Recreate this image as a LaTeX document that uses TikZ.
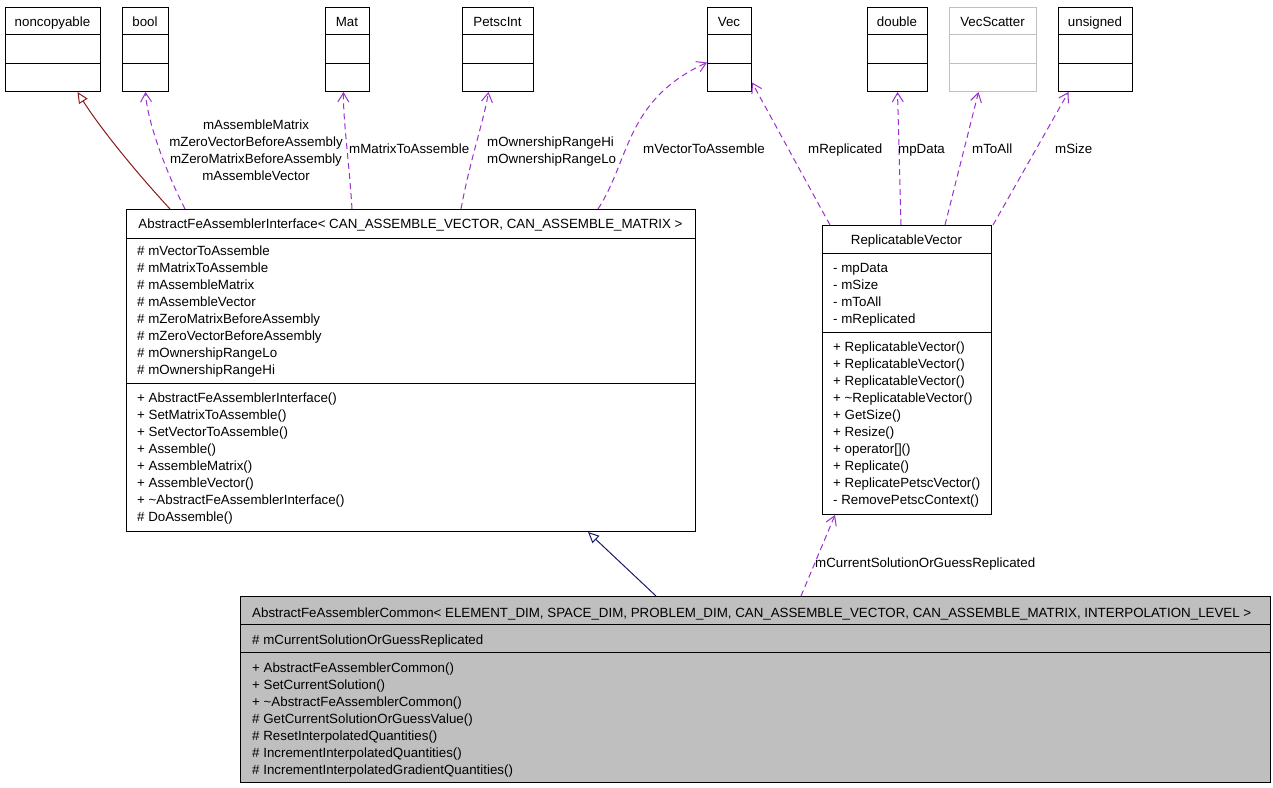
\documentclass[tikz,border=0pt]{standalone}
\usepackage{fontspec}
\setmainfont{Liberation Sans}
\usetikzlibrary{arrows.meta}
\definecolor{usecol}{HTML}{9A32CD}
\definecolor{inhred}{HTML}{8B1A1A}
\definecolor{inhblue}{HTML}{191970}
\definecolor{boxgray}{HTML}{BFBFBF}
\newcommand\clsfont{\fontsize{13.33}{17}\selectfont}
\tikzset{
  cls/.style={draw=black, line width=1pt, inner sep=0pt, anchor=north west},
  ttl/.style={anchor=base, inner sep=0pt, font=\clsfont},
  mem/.style={anchor=base west, inner sep=0pt, font=\clsfont},
  elab/.style={anchor=base west, inner sep=0pt, font=\clsfont},
  clab/.style={anchor=base, inner sep=0pt, font=\clsfont},
  usage/.style={usecol, line width=1pt, dash pattern=on 6pt off 4pt,
    -{Straight Barb[length=9pt,width=11pt,line width=1pt]}},
  inh/.style={line width=1pt, -{Triangle[open,length=11pt,width=10pt,line width=1pt]}},
}
\newcommand\topbox[5]{%
  \node[cls, draw=#5, minimum width={#3-#2}, minimum height=84] (#1) at (#2,7) {};
  \draw[#5, line width=1pt] (#1.west |- 0,34) -- (#1.east |- 0,34);
  \draw[#5, line width=1pt] (#1.west |- 0,63) -- (#1.east |- 0,63);
  \node[ttl] (#1-t) at ({(#2+#3)/2},26) {#4};
}
\begin{document}
\begin{tikzpicture}[x=1pt,y=-1pt]
\useasboundingbox[fill=white] (0,0) rectangle (1273,787);

% top boxes
\topbox{nc}{5}{100}{noncopyable}{black}
\topbox{bool}{122}{168}{bool}{black}
\topbox{mat}{325}{369}{Mat}{black}
\topbox{pint}{462}{533}{PetscInt}{black}
\topbox{vec}{707}{751}{Vec}{black}
\topbox{dbl}{867}{927}{double}{black}
\topbox{vsc}{949}{1036}{VecScatter}{boxgray}
\topbox{uns}{1058}{1132}{unsigned}{black}

% interface box
\node[cls, minimum width=569, minimum height=322] (ifc) at (126,209) {};
\draw[line width=1pt] (ifc.west |- 0,238) -- (ifc.east |- 0,238);
\draw[line width=1pt] (ifc.west |- 0,383) -- (ifc.east |- 0,383);
\node[ttl] (ifc-t) at (410.5,228) {AbstractFeAssemblerInterface< CAN\_ASSEMBLE\_VECTOR, CAN\_ASSEMBLE\_MATRIX >};
\foreach \t [count=\i from 0] in {{\# mVectorToAssemble},{\# mMatrixToAssemble},{\# mAssembleMatrix},{\# mAssembleVector},{\# mZeroMatrixBeforeAssembly},{\# mZeroVectorBeforeAssembly},{\# mOwnershipRangeLo},{\# mOwnershipRangeHi}}
  \node[mem] (ifc-a\i) at (137,{255+17*\i}) {\t};
\foreach \t [count=\i from 0] in {{+ AbstractFeAssemblerInterface()},{+ SetMatrixToAssemble()},{+ SetVectorToAssemble()},{+ Assemble()},{+ AssembleMatrix()},{+ AssembleVector()},{+ \textasciitilde AbstractFeAssemblerInterface()},{\# DoAssemble()}}
  \node[mem] (ifc-m\i) at (137,{402+17*\i}) {\t};

% ReplicatableVector box
\node[cls, minimum width=169, minimum height=289] (rv) at (822,225) {};
\draw[line width=1pt] (rv.west |- 0,253) -- (rv.east |- 0,253);
\draw[line width=1pt] (rv.west |- 0,332) -- (rv.east |- 0,332);
\node[ttl] (rv-t) at (906.5,244) {ReplicatableVector};
\foreach \t [count=\i from 0] in {{- mpData},{- mSize},{- mToAll},{- mReplicated}}
  \node[mem] (rv-a\i) at (833,{272+17*\i}) {\t};
\foreach \t [count=\i from 0] in {{+ ReplicatableVector()},{+ ReplicatableVector()},{+ ReplicatableVector()},{+ \textasciitilde ReplicatableVector()},{+ GetSize()},{+ Resize()},{+ operator[]()},{+ Replicate()},{+ ReplicatePetscVector()},{- RemovePetscContext()}}
  \node[mem] (rv-m\i) at (833,{351+17*\i}) {\t};

% Common box
\node[cls, fill=boxgray, minimum width=1030, minimum height=186] (com) at (240,596) {};
\draw[line width=1pt] (com.west |- 0,624) -- (com.east |- 0,624);
\draw[line width=1pt] (com.west |- 0,652) -- (com.east |- 0,652);
\node[mem] (com-t) at (252,617) {AbstractFeAssemblerCommon< ELEMENT\_DIM, SPACE\_DIM, PROBLEM\_DIM, CAN\_ASSEMBLE\_VECTOR, CAN\_ASSEMBLE\_MATRIX, INTERPOLATION\_LEVEL >};
\node[mem] (com-a0) at (252,644) {\# mCurrentSolutionOrGuessReplicated};
\foreach \t [count=\i from 0] in {{+ AbstractFeAssemblerCommon()},{+ SetCurrentSolution()},{+ \textasciitilde AbstractFeAssemblerCommon()},{\# GetCurrentSolutionOrGuessValue()},{\# ResetInterpolatedQuantities()},{\# IncrementInterpolatedQuantities()},{\# IncrementInterpolatedGradientQuantities()}}
  \node[mem] (com-m\i) at (252,{672+17*\i}) {\t};

% inheritance edges
\draw[inh, inhred] ([xshift=44pt]ifc.north west) .. controls (125,160) and (95,120) .. ([xshift=24.5pt]nc.south);
\draw[inh, inhblue] ([xshift=416pt]com.north west) -- ([xshift=462pt]ifc.south west);

% usage edges from interface
\draw[usage] ([xshift=59pt]ifc.north west) .. controls (165,170) and (147,120) .. (bool.south);
\draw[usage] ([xshift=226pt]ifc.north west) .. controls (349,160) and (343,120) .. ([xshift=-4pt]mat.south);
\draw[usage] ([xshift=335pt]ifc.north west) .. controls (470,160) and (484,120) .. ([xshift=-9.5pt]pint.south);
\draw[usage] ([xshift=472pt]ifc.north west) .. controls (630,160) and (625,100) .. ([yshift=-13pt]vec.west);

% usage edges from ReplicatableVector
\draw[usage] ([xshift=8pt]rv.north west) -- ([yshift=-33pt]vec.east);
\draw[usage] ([xshift=79pt]rv.north west) -- (dbl.south);
\draw[usage] ([xshift=123pt]rv.north west) -- ([xshift=-14.5pt]vsc.south);
\draw[usage] ([xshift=171pt]rv.north west) -- ([xshift=-27pt]uns.south);
\draw[usage] ([xshift=561pt]com.north west) -- ([xshift=13pt]rv.south west);

% edge labels
\node[clab] (l-bool1) at (256,129) {mAssembleMatrix};
\node[clab] (l-bool2) at (256,146) {mZeroVectorBeforeAssembly};
\node[clab] (l-bool3) at (256,163) {mZeroMatrixBeforeAssembly};
\node[clab] (l-bool4) at (256,180) {mAssembleVector};
\node[elab] (l-mat) at (349,153) {mMatrixToAssemble};
\node[elab] (l-pint1) at (487,146) {mOwnershipRangeHi};
\node[elab] (l-pint2) at (487,163) {mOwnershipRangeLo};
\node[elab] (l-vec) at (643,153) {mVectorToAssemble};
\node[elab] (l-rep) at (808,153) {mReplicated};
\node[elab] (l-dbl) at (898,153) {mpData};
\node[elab] (l-vsc) at (972,153) {mToAll};
\node[elab] (l-uns) at (1055,153) {mSize};
\node[elab] (l-com) at (815,567) {mCurrentSolutionOrGuessReplicated};
\end{tikzpicture}
\end{document}
